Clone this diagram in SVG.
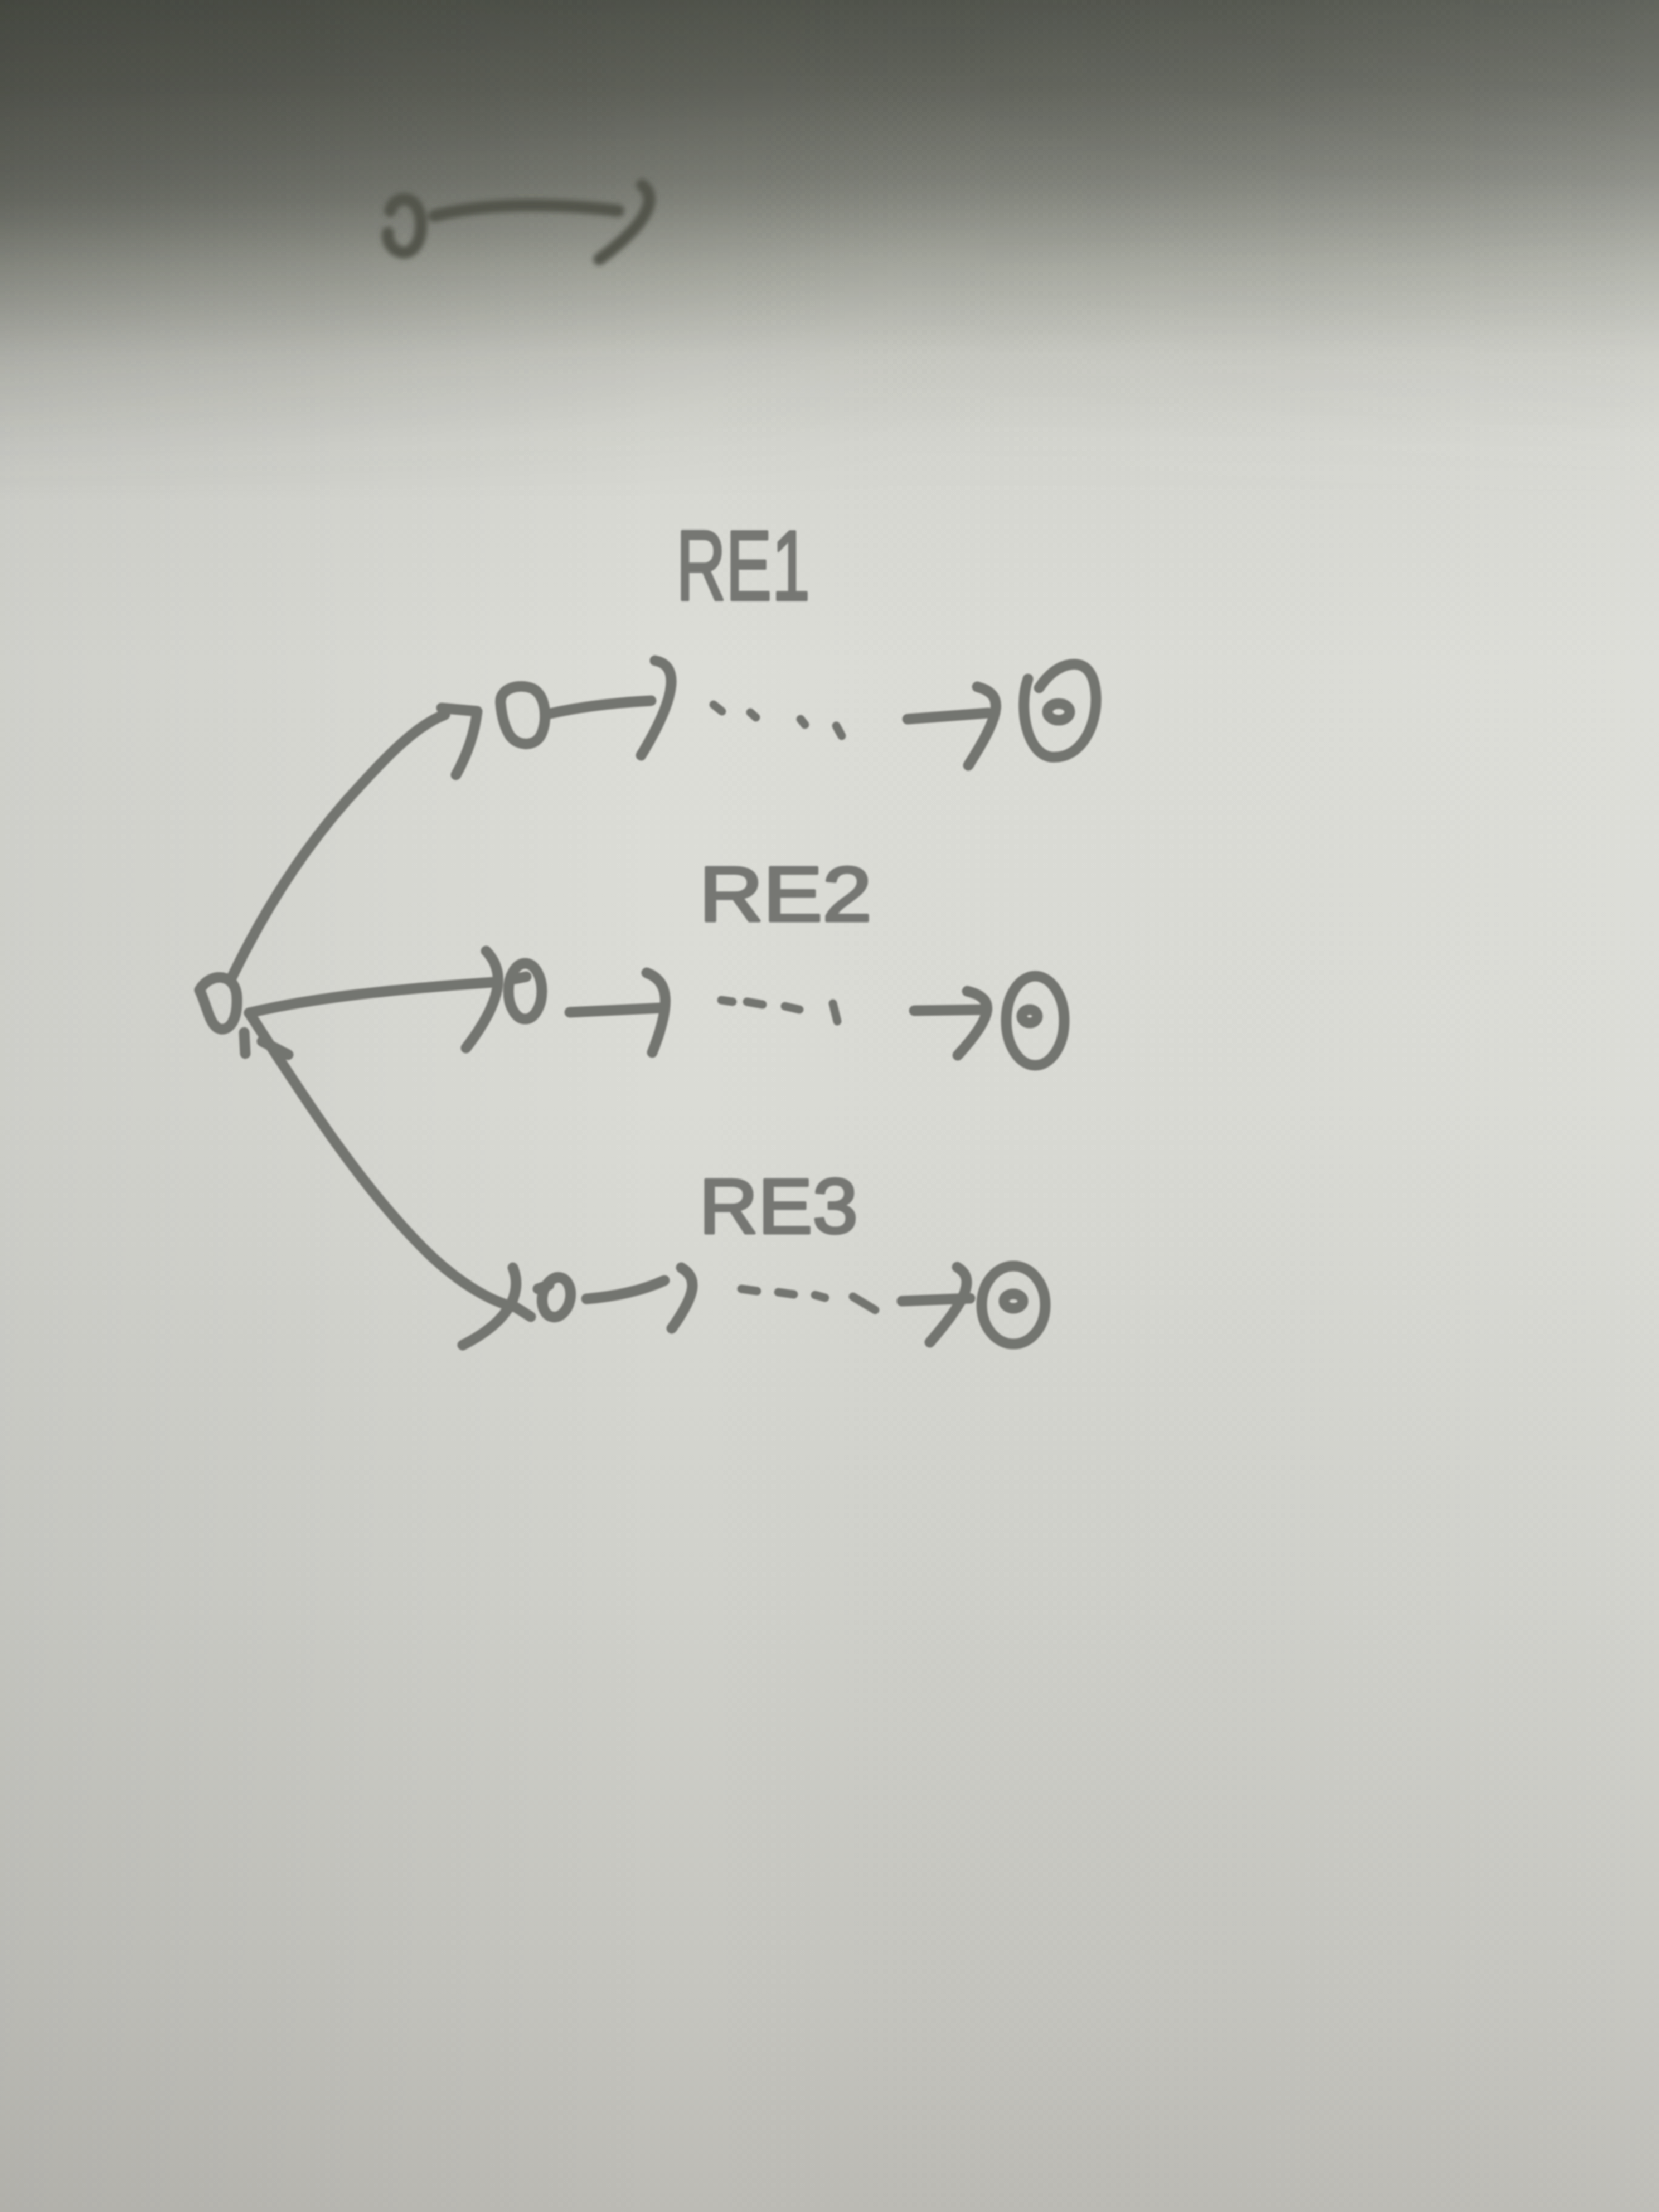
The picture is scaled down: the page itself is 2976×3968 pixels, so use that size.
<svg xmlns="http://www.w3.org/2000/svg" width="2976" height="3968" viewBox="0 0 2976 3968">
<defs>
<linearGradient id="bgv" x1="0" y1="0" x2="0" y2="3968" gradientUnits="userSpaceOnUse">
<stop offset="0" stop-color="#53564e"/>
<stop offset="0.04" stop-color="#65675f"/>
<stop offset="0.08" stop-color="#81837b"/>
<stop offset="0.12" stop-color="#abada4"/>
<stop offset="0.16" stop-color="#cacbc4"/>
<stop offset="0.2" stop-color="#d6d7d1"/>
<stop offset="0.3" stop-color="#dcddd7"/>
<stop offset="0.5" stop-color="#dadbd5"/>
<stop offset="0.7" stop-color="#d1d2cc"/>
<stop offset="0.9" stop-color="#c5c5bf"/>
<stop offset="1" stop-color="#bcbbb5"/>
</linearGradient>
<linearGradient id="bgh" x1="0" y1="0" x2="2976" y2="0" gradientUnits="userSpaceOnUse">
<stop offset="0" stop-color="#000" stop-opacity="0.06"/>
<stop offset="0.4" stop-color="#000" stop-opacity="0"/>
<stop offset="1" stop-color="#fff" stop-opacity="0.04"/>
</linearGradient>
<linearGradient id="toph" x1="0" y1="0" x2="2976" y2="0" gradientUnits="userSpaceOnUse">
<stop offset="0" stop-color="#1c1e18" stop-opacity="0.3"/>
<stop offset="0.55" stop-color="#1c1e18" stop-opacity="0.05"/>
<stop offset="1" stop-color="#ffffff" stop-opacity="0.08"/>
</linearGradient>
<linearGradient id="topfade" x1="0" y1="0" x2="0" y2="900" gradientUnits="userSpaceOnUse">
<stop offset="0" stop-color="#fff" stop-opacity="0.6"/>
<stop offset="0.4" stop-color="#fff" stop-opacity="1"/>
<stop offset="0.75" stop-color="#fff" stop-opacity="0.3"/>
<stop offset="1" stop-color="#fff" stop-opacity="0"/>
</linearGradient>
<mask id="topmask" maskUnits="userSpaceOnUse" x="0" y="0" width="2976" height="900">
<rect width="2976" height="900" fill="url(#topfade)"/>
</mask>
<filter id="soft" x="-5%" y="-5%" width="110%" height="110%"><feGaussianBlur stdDeviation="1.8"/></filter>
<filter id="blurtop" x="-20%" y="-20%" width="140%" height="140%"><feGaussianBlur stdDeviation="5"/></filter>
<style>
.ink{fill:none;stroke:#737470;stroke-width:19;stroke-linecap:round;stroke-linejoin:round}
.inkt{fill:none;stroke:#52544c;stroke-width:22;stroke-linecap:round;stroke-linejoin:round}
.dot{fill:none;stroke:#737470;stroke-width:15;stroke-linecap:round}
.lbl{font-family:"Liberation Sans",Arial,sans-serif;fill:#767773;stroke:#767773;stroke-width:5;stroke-linejoin:round}
</style>
</defs>
<rect width="2976" height="3968" fill="url(#bgv)"/>
<rect width="2976" height="3968" fill="url(#bgh)"/>
<rect width="2976" height="900" fill="url(#toph)" mask="url(#topmask)"/>

<g id="top-example" filter="url(#blurtop)">
<g id="node-top">
<path class="inkt" d="M 700 378 C 706 350 750 345 755 395 C 758 440 735 458 718 452 C 702 447 694 432 696 418"/>
</g>
<g id="connector-top">
<path class="inkt" d="M 779 387 C 880 362 1000 365 1109 378"/>
<path class="inkt" d="M 1152 332 C 1178 352 1170 395 1075 465"/>
</g>
</g>

<g id="diagram" filter="url(#soft)">
<g id="connectors">
<path class="ink" d="M 415 1755 C 480 1620 560 1500 650 1405 C 700 1350 750 1300 798 1282"/>
<path class="ink" d="M 792 1270 L 856 1276 C 852 1310 840 1350 818 1390"/>
<path class="ink" d="M 447 1817 C 560 1790 700 1775 885 1762"/>
<path class="ink" d="M 872 1706 C 905 1740 905 1790 836 1880"/>
<path class="ink" d="M 447 1817 C 540 1960 640 2120 760 2240 C 820 2300 880 2335 925 2345 L 952 2362"/>
<path class="ink" d="M 470 1868 L 517 1892"/>
<path class="ink" d="M 438 1852 L 440 1890" stroke-width="10"/>
<path class="ink" d="M 920 2274 C 935 2310 925 2365 830 2413"/>
<path class="ink" d="M 987 1280 C 1050 1266 1110 1260 1168 1257"/>
<path class="ink" d="M 1175 1185 C 1215 1192 1220 1240 1150 1355"/>
<path class="ink" d="M 1628 1290 L 1773 1279"/>
<path class="ink" d="M 1753 1232 C 1800 1245 1800 1275 1737 1373"/>
<path class="ink" d="M 1022 1816 L 1187 1808"/>
<path class="ink" d="M 1160 1745 C 1200 1760 1205 1800 1170 1888"/>
<path class="ink" d="M 1640 1813 L 1770 1811"/>
<path class="ink" d="M 1735 1778 C 1785 1790 1785 1820 1718 1893"/>
<path class="ink" d="M 1052 2330 C 1100 2326 1150 2316 1192 2297"/>
<path class="ink" d="M 1222 2274 C 1252 2292 1250 2320 1205 2383"/>
<path class="ink" d="M 1618 2334 L 1740 2329"/>
<path class="ink" d="M 1717 2273 C 1748 2292 1740 2325 1668 2408"/>
<g id="dots-row1">
<path class="dot" d="M 1280 1264 L 1295 1276"/>
<path class="dot" d="M 1346 1278 L 1356 1287"/>
<path class="dot" d="M 1436 1290 L 1444 1300"/>
<path class="dot" d="M 1500 1302 L 1510 1320"/>
</g>
<g id="dots-row2">
<path class="dot" d="M 1294 1794 L 1314 1797"/>
<path class="dot" d="M 1340 1797 L 1368 1802"/>
<path class="dot" d="M 1408 1805 L 1434 1811"/>
<path class="dot" d="M 1494 1800 L 1502 1832"/>
</g>
<g id="dots-row3">
<path class="dot" d="M 1330 2312 L 1358 2316"/>
<path class="dot" d="M 1396 2318 L 1424 2322"/>
<path class="dot" d="M 1462 2323 L 1480 2328"/>
<path class="dot" d="M 1530 2326 L 1570 2350"/>
</g>
</g>

<g id="node-start">
<path class="ink" d="M 358 1776 C 378 1742 425 1745 425 1792 C 426 1830 412 1848 396 1846 C 376 1843 372 1805 358 1776 Z"/>
</g>

<g id="node-re1-first">
<path class="ink" d="M 898 1262 C 895 1235 930 1225 955 1235 C 980 1248 982 1290 972 1315 C 962 1340 930 1340 915 1320 C 905 1305 900 1285 898 1262 Z"/>
</g>
<g id="node-re1-final">
<path class="ink" d="M 1844 1218 C 1826 1270 1842 1352 1885 1358 C 1940 1363 1968 1300 1966 1250 C 1964 1205 1946 1188 1920 1192 C 1895 1196 1876 1216 1864 1234"/>
<ellipse class="ink" cx="1899" cy="1277" rx="20" ry="15" stroke-width="22"/>
</g>

<g id="node-re2-first">
<ellipse class="ink" cx="942" cy="1778" rx="30" ry="50"/>
<path class="ink" d="M 924 1756 L 944 1752" stroke-width="14"/>
</g>
<g id="node-re2-final">
<ellipse class="ink" cx="1857" cy="1831" rx="52" ry="80"/>
<ellipse class="ink" cx="1847" cy="1823" rx="14" ry="12" stroke-width="18"/>
</g>

<g id="node-re3-first">
<ellipse class="ink" cx="998" cy="2327" rx="25" ry="36" transform="rotate(12 998 2327)"/>
<path class="ink" d="M 965 2312 L 985 2305" stroke-width="14"/>
</g>
<g id="node-re3-final">
<ellipse class="ink" cx="1818" cy="2341" rx="57" ry="70"/>
<ellipse class="ink" cx="1818" cy="2334" rx="17" ry="13" stroke-width="18"/>
</g>

<g id="labels">
<text class="lbl" x="1213" y="1076" font-size="178" textLength="240" lengthAdjust="spacingAndGlyphs">RE1</text>
<text class="lbl" x="1254" y="1652" font-size="140" textLength="310" lengthAdjust="spacingAndGlyphs">RE2</text>
<text class="lbl" x="1254" y="2212" font-size="140" textLength="285" lengthAdjust="spacingAndGlyphs">RE3</text>
</g>
</g>
</svg>
